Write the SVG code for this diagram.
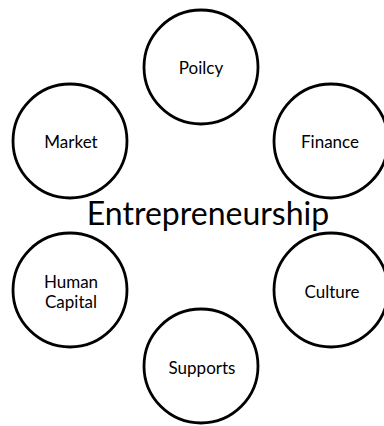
<svg xmlns="http://www.w3.org/2000/svg" width="384" height="426" viewBox="0 0 384 426">
<style>
.c{fill:#fff;stroke:#000;stroke-width:2.8}
.t{font-family:Lato,"Open Sans","Liberation Sans",sans-serif;font-size:17px;fill:#000;text-anchor:middle}
.m{font-family:Lato,"Open Sans","Liberation Sans",sans-serif;font-size:32px;fill:#000;text-anchor:middle}
</style>
<rect width="384" height="426" fill="#fff"/>
<g id="policy"><circle class="c" cx="201" cy="67" r="57"/><text class="t" x="201" y="74">Poilcy</text></g>
<g id="finance"><circle class="c" cx="331" cy="141" r="57"/><text class="t" x="330" y="148">Finance</text></g>
<g id="culture"><circle class="c" cx="331" cy="290" r="57"/><text class="t" x="332" y="298">Culture</text></g>
<g id="supports"><circle class="c" cx="201" cy="366" r="57"/><text class="t" x="202" y="374">Supports</text></g>
<g id="human-capital"><circle class="c" cx="70" cy="290" r="57"/><text class="t" x="71" y="288">Human</text><text class="t" x="71" y="308">Capital</text></g>
<g id="market"><circle class="c" cx="70" cy="141" r="57"/><text class="t" x="71" y="148">Market</text></g>
<g id="connectors"></g>
<g id="center"><text class="m" x="208" y="225">Entrepreneurship</text></g>
</svg>
